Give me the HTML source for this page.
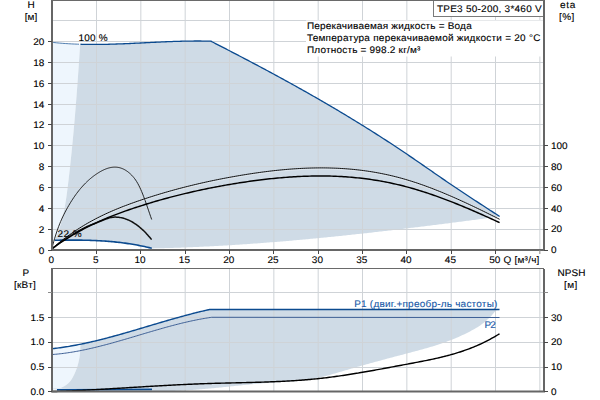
<!DOCTYPE html><html><head><meta charset="utf-8"><style>html,body{margin:0;padding:0;background:#fff;width:600px;height:400px;overflow:hidden}svg{display:block}text{font-family:"Liberation Sans",sans-serif;font-size:10px;fill:#000;stroke:#000;stroke-width:0.12px}</style></head><body>
<svg width="600" height="400" viewBox="0 0 600 400" text-rendering="geometricPrecision">
<path d="M52.00,42.32 L53.50,42.49 L55.00,42.64 L56.50,42.79 L58.00,42.93 L59.50,43.07 L61.00,43.19 L62.50,43.32 L64.00,43.43 L65.50,43.54 L67.00,43.64 L68.50,43.73 L70.00,43.82 L71.50,43.90 L73.00,43.97 L74.50,44.04 L76.00,44.10 L77.50,44.16 L79.00,44.21  L80.16,44.20 L80.06,45.70 L79.96,47.20 L79.86,48.70 L79.77,50.20 L79.67,51.70 L79.57,53.20 L79.47,54.70 L79.37,56.20 L79.27,57.70 L79.17,59.20 L79.07,60.70 L78.96,62.20 L78.86,63.70 L78.76,65.20 L78.66,66.70 L78.55,68.20 L78.45,69.70 L78.35,71.20 L78.24,72.70 L78.14,74.20 L78.03,75.70 L77.92,77.20 L77.82,78.70 L77.71,80.20 L77.60,81.70 L77.49,83.20 L77.38,84.70 L77.27,86.20 L77.16,87.70 L77.05,89.20 L76.94,90.70 L76.82,92.20 L76.71,93.70 L76.59,95.20 L76.48,96.70 L76.36,98.20 L76.25,99.70 L76.13,101.20 L76.01,102.70 L75.89,104.20 L75.77,105.70 L75.65,107.20 L75.53,108.70 L75.41,110.20 L75.28,111.70 L75.16,113.20 L75.04,114.70 L74.91,116.20 L74.78,117.70 L74.65,119.20 L74.53,120.70 L74.40,122.20 L74.27,123.70 L74.13,125.20 L74.00,126.70 L73.87,128.20 L73.73,129.70 L73.60,131.20 L73.46,132.70 L73.32,134.20 L73.18,135.70 L73.04,137.20 L72.90,138.70 L72.76,140.20 L72.62,141.70 L72.47,143.20 L72.33,144.70 L72.18,146.20 L72.03,147.70 L71.88,149.20 L71.73,150.70 L71.58,152.20 L71.43,153.70 L71.27,155.20 L71.12,156.70 L70.96,158.20 L70.80,159.70 L70.64,161.20 L70.48,162.70 L70.32,164.20 L70.16,165.70 L69.99,167.20 L69.83,168.70 L69.66,170.20 L69.49,171.70 L69.32,173.20 L69.15,174.70 L68.98,176.20 L68.80,177.70 L68.63,179.20 L68.45,180.70 L68.27,182.20 L68.09,183.70 L67.91,185.20 L67.72,186.70 L67.54,188.20 L67.35,189.70 L67.16,191.20 L66.96,192.70 L66.76,194.20 L66.55,195.70 L66.34,197.20 L66.12,198.70 L65.89,200.20 L65.66,201.70 L65.41,203.20 L65.16,204.70 L64.90,206.20 L64.62,207.70 L64.34,209.20 L64.04,210.70 L63.73,212.20 L63.41,213.70 L63.08,215.20 L62.73,216.70 L62.36,218.20 L61.98,219.70 L61.58,221.20 L61.17,222.70 L60.74,224.20 L60.29,225.70 L59.82,227.20 L59.33,228.70 L58.82,230.20 L58.29,231.70 L57.74,233.20 L57.17,234.70 L56.57,236.20 L55.96,237.70 L55.31,239.20 L54.87,240.20  L52,240.2 Z" fill="#eef6fd"/>
<path d="M80.50,44.26 L82.00,44.30 L83.50,44.33 L85.00,44.36 L86.50,44.39 L88.00,44.41 L89.50,44.42 L91.00,44.43 L92.50,44.44 L94.00,44.44 L95.50,44.44 L97.00,44.43 L98.50,44.42 L100.00,44.40 L101.50,44.39 L103.00,44.36 L104.50,44.34 L106.00,44.31 L107.50,44.28 L109.00,44.24 L110.50,44.20 L112.00,44.16 L113.50,44.11 L115.00,44.07 L116.50,44.02 L118.00,43.97 L119.50,43.91 L121.00,43.85 L122.50,43.80 L124.00,43.73 L125.50,43.67 L127.00,43.61 L128.50,43.54 L130.00,43.48 L131.50,43.41 L133.00,43.34 L134.50,43.27 L136.00,43.20 L137.50,43.12 L139.00,43.05 L140.50,42.98 L142.00,42.90 L143.50,42.83 L145.00,42.76 L146.50,42.68 L148.00,42.61 L149.50,42.53 L151.00,42.46 L152.50,42.39 L154.00,42.31 L155.50,42.24 L157.00,42.17 L158.50,42.10 L160.00,42.03 L161.50,41.96 L163.00,41.89 L164.50,41.83 L166.00,41.77 L167.50,41.70 L169.00,41.64 L170.50,41.59 L172.00,41.53 L173.50,41.47 L175.00,41.42 L176.50,41.37 L178.00,41.33 L179.50,41.28 L181.00,41.24 L182.50,41.20 L184.00,41.17 L185.50,41.14 L187.00,41.11 L188.50,41.08 L190.00,41.06 L191.50,41.04 L193.00,41.03 L194.50,41.02 L196.00,41.01 L197.50,41.01 L199.00,41.01 L200.50,41.02 L202.00,41.03 L203.50,41.05 L205.00,41.07 L206.50,41.09 L208.00,41.12 L209.50,41.16 L211.00,41.20 L211.00,41.25 L212.50,42.01 L214.00,42.78 L215.50,43.55 L217.00,44.32 L218.50,45.09 L220.00,45.86 L221.50,46.63 L223.00,47.40 L224.50,48.18 L226.00,48.95 L227.50,49.73 L229.00,50.50 L230.50,51.28 L232.00,52.06 L233.50,52.83 L235.00,53.61 L236.50,54.39 L238.00,55.18 L239.50,55.96 L241.00,56.74 L242.50,57.53 L244.00,58.31 L245.50,59.10 L247.00,59.89 L248.50,60.68 L250.00,61.47 L251.50,62.26 L253.00,63.05 L254.50,63.84 L256.00,64.64 L257.50,65.43 L259.00,66.23 L260.50,67.03 L262.00,67.83 L263.50,68.63 L265.00,69.43 L266.50,70.24 L268.00,71.04 L269.50,71.85 L271.00,72.66 L272.50,73.47 L274.00,74.28 L275.50,75.09 L277.00,75.91 L278.50,76.72 L280.00,77.54 L281.50,78.36 L283.00,79.18 L284.50,80.00 L286.00,80.82 L287.50,81.65 L289.00,82.48 L290.50,83.30 L292.00,84.13 L293.50,84.97 L295.00,85.80 L296.50,86.63 L298.00,87.47 L299.50,88.31 L301.00,89.15 L302.50,89.99 L304.00,90.84 L305.50,91.68 L307.00,92.53 L308.50,93.38 L310.00,94.23 L311.50,95.08 L313.00,95.94 L314.50,96.80 L316.00,97.66 L317.50,98.52 L319.00,99.38 L320.50,100.25 L322.00,101.11 L323.50,101.98 L325.00,102.86 L326.50,103.73 L328.00,104.61 L329.50,105.48 L331.00,106.36 L332.50,107.25 L334.00,108.13 L335.50,109.02 L337.00,109.91 L338.50,110.80 L340.00,111.69 L341.50,112.59 L343.00,113.49 L344.50,114.39 L346.00,115.29 L347.50,116.19 L349.00,117.10 L350.50,118.01 L352.00,118.93 L353.50,119.84 L355.00,120.76 L356.50,121.68 L358.00,122.60 L359.50,123.52 L361.00,124.45 L362.50,125.38 L364.00,126.32 L365.50,127.25 L367.00,128.19 L368.50,129.13 L370.00,130.07 L371.50,131.02 L373.00,131.97 L374.50,132.92 L376.00,133.87 L377.50,134.83 L379.00,135.79 L380.50,136.75 L382.00,137.72 L383.50,138.68 L385.00,139.65 L386.50,140.63 L388.00,141.60 L389.50,142.58 L391.00,143.57 L392.50,144.55 L394.00,145.54 L395.50,146.53 L397.00,147.52 L398.50,148.52 L400.00,149.52 L401.50,150.53 L403.00,151.53 L404.50,152.54 L406.00,153.55 L407.50,154.57 L409.00,155.59 L410.50,156.61 L412.00,157.63 L413.50,158.66 L415.00,159.69 L416.50,160.72 L418.00,161.75 L419.50,162.79 L421.00,163.82 L422.50,164.86 L424.00,165.90 L425.50,166.94 L427.00,167.98 L428.50,169.01 L430.00,170.05 L431.50,171.09 L433.00,172.13 L434.50,173.17 L436.00,174.21 L437.50,175.24 L439.00,176.28 L440.50,177.31 L442.00,178.34 L443.50,179.37 L445.00,180.40 L446.50,181.43 L448.00,182.45 L449.50,183.47 L451.00,184.49 L452.50,185.51 L454.00,186.52 L455.50,187.53 L457.00,188.53 L458.50,189.53 L460.00,190.53 L461.50,191.53 L463.00,192.53 L464.50,193.52 L466.00,194.51 L467.50,195.50 L469.00,196.49 L470.50,197.47 L472.00,198.46 L473.50,199.44 L475.00,200.42 L476.50,201.40 L478.00,202.38 L479.50,203.36 L481.00,204.33 L482.50,205.31 L484.00,206.28 L485.50,207.26 L487.00,208.23 L488.50,209.21 L490.00,210.18 L491.50,211.16 L493.00,212.13 L494.50,213.10 L496.00,214.08 L497.50,215.05 L499.00,216.03 L499.60,216.42 L499.50,216.56 L498.30,216.72 L496.80,216.92 L495.30,217.12 L493.80,217.31 L492.30,217.51 L490.80,217.71 L489.30,217.91 L487.80,218.11 L486.30,218.31 L484.80,218.50 L483.30,218.70 L481.80,218.90 L480.30,219.10 L478.80,219.29 L477.30,219.49 L475.80,219.69 L474.30,219.88 L472.80,220.08 L471.30,220.28 L469.80,220.47 L468.30,220.67 L466.80,220.86 L465.30,221.06 L463.80,221.25 L462.30,221.45 L460.80,221.64 L459.30,221.84 L457.80,222.03 L456.30,222.22 L454.80,222.42 L453.30,222.61 L451.80,222.80 L450.30,223.00 L448.80,223.19 L447.30,223.38 L445.80,223.57 L444.30,223.76 L442.80,223.95 L441.30,224.14 L439.80,224.33 L438.30,224.52 L436.80,224.71 L435.30,224.90 L433.80,225.09 L432.30,225.28 L430.80,225.47 L429.30,225.65 L427.80,225.84 L426.30,226.03 L424.80,226.21 L423.30,226.40 L421.80,226.59 L420.30,226.77 L418.80,226.96 L417.30,227.14 L415.80,227.33 L414.30,227.51 L412.80,227.69 L411.30,227.87 L409.80,228.06 L408.30,228.24 L406.80,228.42 L405.30,228.60 L403.80,228.78 L402.30,228.96 L400.80,229.14 L399.30,229.32 L397.80,229.50 L396.30,229.68 L394.80,229.85 L393.30,230.03 L391.80,230.21 L390.30,230.38 L388.80,230.56 L387.30,230.73 L385.80,230.91 L384.30,231.08 L382.80,231.26 L381.30,231.43 L379.80,231.60 L378.30,231.77 L376.80,231.95 L375.30,232.12 L373.80,232.29 L372.30,232.46 L370.80,232.63 L369.30,232.79 L367.80,232.96 L366.30,233.13 L364.80,233.30 L363.30,233.46 L361.80,233.63 L360.30,233.79 L358.80,233.96 L357.30,234.12 L355.80,234.28 L354.30,234.45 L352.80,234.61 L351.30,234.77 L349.80,234.93 L348.30,235.09 L346.80,235.25 L345.30,235.41 L343.80,235.56 L342.30,235.72 L340.80,235.88 L339.30,236.03 L337.80,236.19 L336.30,236.34 L334.80,236.50 L333.30,236.65 L331.80,236.80 L330.30,236.95 L328.80,237.10 L327.30,237.26 L325.80,237.40 L324.30,237.55 L322.80,237.70 L321.30,237.85 L319.80,237.99 L318.30,238.14 L316.80,238.29 L315.30,238.43 L313.80,238.57 L312.30,238.72 L310.80,238.86 L309.30,239.00 L307.80,239.14 L306.30,239.28 L304.80,239.42 L303.30,239.56 L301.80,239.69 L300.30,239.83 L298.80,239.96 L297.30,240.10 L295.80,240.23 L294.30,240.37 L292.80,240.50 L291.30,240.63 L289.80,240.76 L288.30,240.89 L286.80,241.02 L285.30,241.15 L283.80,241.27 L282.30,241.40 L280.80,241.52 L279.30,241.65 L277.80,241.77 L276.30,241.89 L274.80,242.02 L273.30,242.14 L271.80,242.26 L270.30,242.37 L268.80,242.49 L267.30,242.61 L265.80,242.73 L264.30,242.84 L262.80,242.96 L261.30,243.07 L259.80,243.18 L258.30,243.29 L256.80,243.40 L255.30,243.51 L253.80,243.62 L252.30,243.73 L250.80,243.83 L249.30,243.94 L247.80,244.04 L246.30,244.15 L244.80,244.25 L243.30,244.35 L241.80,244.45 L240.30,244.55 L238.80,244.65 L237.30,244.75 L235.80,244.84 L234.30,244.94 L232.80,245.03 L231.30,245.13 L229.80,245.22 L228.30,245.31 L226.80,245.40 L225.30,245.49 L223.80,245.58 L222.30,245.66 L220.80,245.75 L219.30,245.83 L217.80,245.92 L216.30,246.00 L214.80,246.08 L213.30,246.16 L211.80,246.24 L210.30,246.32 L208.80,246.39 L207.30,246.47 L205.80,246.54 L204.30,246.62 L202.80,246.69 L201.30,246.76 L199.80,246.83 L198.30,246.90 L196.80,246.97 L195.30,247.03 L193.80,247.10 L192.30,247.16 L190.80,247.22 L189.30,247.29 L187.80,247.35 L186.30,247.41 L184.80,247.46 L183.30,247.52 L181.80,247.58 L180.30,247.63 L178.80,247.68 L177.30,247.74 L175.80,247.79 L174.30,247.84 L172.80,247.88 L171.30,247.93 L169.80,247.98 L168.30,248.02 L166.80,248.06 L165.30,248.10 L163.80,248.14 L162.30,248.18 L160.80,248.22 L159.30,248.26 L157.80,248.29 L156.30,248.33 L154.80,248.36 L153.30,248.39 L151.80,248.42 L151.80,248.28 L150.60,247.98 L149.10,247.62 L147.60,247.26 L146.10,246.92 L144.60,246.59 L143.10,246.27 L141.60,245.96 L140.10,245.66 L138.60,245.36 L137.10,245.08 L135.60,244.81 L134.10,244.55 L132.60,244.29 L131.10,244.05 L129.60,243.81 L128.10,243.59 L126.60,243.37 L125.10,243.16 L123.60,242.96 L122.10,242.77 L120.60,242.58 L119.10,242.41 L117.60,242.24 L116.10,242.08 L114.60,241.92 L113.10,241.78 L111.60,241.64 L110.10,241.51 L108.60,241.38 L107.10,241.27 L105.60,241.15 L104.10,241.05 L102.60,240.95 L101.10,240.86 L99.60,240.77 L98.10,240.69 L96.60,240.62 L95.10,240.55 L93.60,240.48 L92.10,240.43 L90.60,240.37 L89.10,240.32 L87.60,240.28 L86.10,240.24 L84.60,240.21 L83.10,240.18 L81.60,240.15 L80.10,240.13 L78.60,240.11 L77.10,240.10 L75.60,240.09 L74.10,240.08 L72.60,240.08 L71.10,240.08 L69.60,240.09 L68.10,240.09 L66.60,240.10 L65.10,240.11 L63.60,240.13 L62.10,240.14 L60.60,240.16 L59.10,240.18 L57.60,240.21 L56.10,240.23 L54.60,240.26 L54.87,240.20 L55.31,239.20 L55.96,237.70 L56.57,236.20 L57.17,234.70 L57.74,233.20 L58.29,231.70 L58.82,230.20 L59.33,228.70 L59.82,227.20 L60.29,225.70 L60.74,224.20 L61.17,222.70 L61.58,221.20 L61.98,219.70 L62.36,218.20 L62.73,216.70 L63.08,215.20 L63.41,213.70 L63.73,212.20 L64.04,210.70 L64.34,209.20 L64.62,207.70 L64.90,206.20 L65.16,204.70 L65.41,203.20 L65.66,201.70 L65.89,200.20 L66.12,198.70 L66.34,197.20 L66.55,195.70 L66.76,194.20 L66.96,192.70 L67.16,191.20 L67.35,189.70 L67.54,188.20 L67.72,186.70 L67.91,185.20 L68.09,183.70 L68.27,182.20 L68.45,180.70 L68.63,179.20 L68.80,177.70 L68.98,176.20 L69.15,174.70 L69.32,173.20 L69.49,171.70 L69.66,170.20 L69.83,168.70 L69.99,167.20 L70.16,165.70 L70.32,164.20 L70.48,162.70 L70.64,161.20 L70.80,159.70 L70.96,158.20 L71.12,156.70 L71.27,155.20 L71.43,153.70 L71.58,152.20 L71.73,150.70 L71.88,149.20 L72.03,147.70 L72.18,146.20 L72.33,144.70 L72.47,143.20 L72.62,141.70 L72.76,140.20 L72.90,138.70 L73.04,137.20 L73.18,135.70 L73.32,134.20 L73.46,132.70 L73.60,131.20 L73.73,129.70 L73.87,128.20 L74.00,126.70 L74.13,125.20 L74.27,123.70 L74.40,122.20 L74.53,120.70 L74.65,119.20 L74.78,117.70 L74.91,116.20 L75.04,114.70 L75.16,113.20 L75.28,111.70 L75.41,110.20 L75.53,108.70 L75.65,107.20 L75.77,105.70 L75.89,104.20 L76.01,102.70 L76.13,101.20 L76.25,99.70 L76.36,98.20 L76.48,96.70 L76.59,95.20 L76.71,93.70 L76.82,92.20 L76.94,90.70 L77.05,89.20 L77.16,87.70 L77.27,86.20 L77.38,84.70 L77.49,83.20 L77.60,81.70 L77.71,80.20 L77.82,78.70 L77.92,77.20 L78.03,75.70 L78.14,74.20 L78.24,72.70 L78.35,71.20 L78.45,69.70 L78.55,68.20 L78.66,66.70 L78.76,65.20 L78.86,63.70 L78.96,62.20 L79.07,60.70 L79.17,59.20 L79.27,57.70 L79.37,56.20 L79.47,54.70 L79.57,53.20 L79.67,51.70 L79.77,50.20 L79.86,48.70 L79.96,47.20 L80.06,45.70 L80.16,44.20 Z" fill="#cfdbe6"/>
<path d="M96.51,0 V249 M140.84,0 V249 M185.18,0 V249 M229.51,0 V249 M273.85,0 V249 M318.18,0 V249 M362.52,0 V249 M406.85,0 V249 M451.19,0 V249 M495.52,0 V249 M539.86,0 V249 M53,229.5 H543 M53,208.5 H543 M53,187.5 H543 M53,166.5 H543 M53,145.5 H543 M53,124.5 H543 M53,104.5 H543 M53,83.5 H543 M53,62.5 H543 M53,41.5 H543 M53,20.5 H543" stroke="#cfd3d7" stroke-width="1" fill="none"/>
<path d="M52.70,348.62 L54.20,348.45 L55.70,348.27 L57.20,348.09 L58.70,347.90 L60.20,347.70 L61.70,347.49 L63.20,347.27 L64.70,347.04 L66.20,346.81 L67.70,346.57 L69.20,346.32 L70.70,346.06 L72.20,345.80 L73.70,345.53 L75.20,345.25 L76.70,344.97 L78.20,344.68 L79.70,344.38  L80.37,344.30 L80.37,345.80 L80.35,347.30 L80.30,348.80 L80.22,350.30 L80.12,351.80 L79.99,353.30 L79.83,354.80 L79.63,356.30 L79.41,357.80 L79.14,359.30 L78.84,360.80 L78.51,362.30 L78.13,363.80 L77.72,365.30 L77.26,366.80 L76.77,368.30 L76.22,369.80 L75.64,371.30 L75.00,372.80 L74.32,374.30 L73.59,375.80 L72.81,377.30 L71.96,378.80 L70.99,380.30 L69.80,381.80 L68.33,383.30 L66.51,384.80 L64.25,386.30 L61.14,387.80 L55.88,389.30 L54.44,389.60  L52,390 Z" fill="#eef6fd"/>
<path d="M81.20,344.08 L82.70,343.77 L84.20,343.45 L85.70,343.13 L87.20,342.80 L88.70,342.47 L90.20,342.13 L91.70,341.78 L93.20,341.43 L94.70,341.08 L96.20,340.72 L97.70,340.35 L99.20,339.98 L100.70,339.61 L102.20,339.23 L103.70,338.84 L105.20,338.46 L106.70,338.07 L108.20,337.67 L109.70,337.27 L111.20,336.87 L112.70,336.46 L114.20,336.05 L115.70,335.64 L117.20,335.22 L118.70,334.81 L120.20,334.38 L121.70,333.96 L123.20,333.53 L124.70,333.10 L126.20,332.67 L127.70,332.24 L129.20,331.81 L130.70,331.37 L132.20,330.93 L133.70,330.49 L135.20,330.05 L136.70,329.61 L138.20,329.16 L139.70,328.72 L141.20,328.27 L142.70,327.83 L144.20,327.38 L145.70,326.93 L147.20,326.49 L148.70,326.04 L150.20,325.59 L151.70,325.15 L153.20,324.70 L154.70,324.25 L156.20,323.81 L157.70,323.36 L159.20,322.92 L160.70,322.48 L162.20,322.04 L163.70,321.60 L165.20,321.16 L166.70,320.72 L168.20,320.29 L169.70,319.85 L171.20,319.42 L172.70,318.99 L174.20,318.56 L175.70,318.14 L177.20,317.72 L178.70,317.30 L180.20,316.88 L181.70,316.47 L183.20,316.06 L184.70,315.65 L186.20,315.25 L187.70,314.85 L189.20,314.45 L190.70,314.06 L192.20,313.67 L193.70,313.29 L195.20,312.91 L196.70,312.53 L198.20,312.16 L199.70,311.80 L201.20,311.43 L202.70,311.08 L204.20,310.73 L205.70,310.38 L207.20,310.04 L208.70,309.70 L209.50,309.53 L499.50,309.50  L496.00,310.39 L495.50,311.01 L494.00,312.82 L492.50,314.53 L491.00,316.14 L489.50,317.66 L488.00,319.09 L486.50,320.44 L485.00,321.72 L483.50,322.92 L482.00,324.06 L480.50,325.13 L479.00,326.15 L477.50,327.13 L476.00,328.05 L474.50,328.94 L473.00,329.79 L471.50,330.61 L470.00,331.41 L468.50,332.19 L467.00,332.95 L465.50,333.69 L464.00,334.41 L462.50,335.12 L461.00,335.81 L459.50,336.49 L458.00,337.15 L456.50,337.79 L455.00,338.42 L453.50,339.03 L452.00,339.63 L450.50,340.22 L449.00,340.79 L447.50,341.35 L446.00,341.90 L444.50,342.44 L443.00,342.97 L441.50,343.48 L440.00,343.99 L438.50,344.48 L437.00,344.97 L435.50,345.45 L434.00,345.92 L432.50,346.38 L431.00,346.83 L429.50,347.28 L428.00,347.72 L426.50,348.15 L425.00,348.58 L423.50,349.00 L422.00,349.42 L420.50,349.83 L419.00,350.24 L417.50,350.65 L416.00,351.05 L414.50,351.46 L413.00,351.85 L411.50,352.25 L410.00,352.65 L408.50,353.04 L407.00,353.44 L405.50,353.83 L404.00,354.23 L402.50,354.63 L401.00,355.02 L399.50,355.42 L398.00,355.82 L396.50,356.22 L395.00,356.61 L393.50,357.01 L392.00,357.41 L390.50,357.81 L389.00,358.22 L387.50,358.62 L386.00,359.02 L384.50,359.42 L383.00,359.83 L381.50,360.23 L380.00,360.64 L378.50,361.05 L377.00,361.46 L375.50,361.87 L374.00,362.28 L372.50,362.69 L371.00,363.10 L369.50,363.51 L368.00,363.93 L366.50,364.34 L365.00,364.76 L363.50,365.18 L362.00,365.60 L360.50,366.02 L359.00,366.44 L357.50,366.87 L356.00,367.29 L354.50,367.72 L353.00,368.15 L351.50,368.58 L350.00,369.01 L348.50,369.45 L347.00,369.88 L345.50,370.32 L344.00,370.76 L342.50,371.20 L341.00,371.64 L339.50,372.08 L338.00,372.53 L336.50,372.97 L335.00,373.42 L333.50,373.86 L332.00,374.29 L330.50,374.73 L329.00,375.15 L327.50,375.56 L326.00,375.97 L324.50,376.36 L323.00,376.75 L321.50,377.11 L320.00,377.46 L318.50,377.80 L317.00,378.11 L315.50,378.41 L314.00,378.69 L312.50,378.96 L311.00,379.21 L309.50,379.44 L308.00,379.66 L306.50,379.87 L305.00,380.06 L303.50,380.24 L302.00,380.41 L300.50,380.57 L299.00,380.72 L297.50,380.87 L296.00,381.00 L294.50,381.13 L293.00,381.24 L291.50,381.36 L290.00,381.46 L288.50,381.57 L287.00,381.67 L285.50,381.76 L284.00,381.86 L282.50,381.95 L281.00,382.04 L279.50,382.13 L278.00,382.22 L276.50,382.32 L275.00,382.41 L273.50,382.51 L272.00,382.61 L270.50,382.72 L269.00,382.83 L267.50,382.94 L266.00,383.06 L264.50,383.18 L263.00,383.30 L261.50,383.43 L260.00,383.55 L258.50,383.68 L257.00,383.82 L255.50,383.95 L254.00,384.09 L252.50,384.23 L251.00,384.37 L249.50,384.52 L248.00,384.66 L246.50,384.81 L245.00,384.96 L243.50,385.11 L242.00,385.26 L240.50,385.41 L239.00,385.56 L237.50,385.71 L236.00,385.87 L234.50,386.02 L233.00,386.18 L231.50,386.33 L230.00,386.48 L228.50,386.64 L227.00,386.79 L225.50,386.95 L224.00,387.10 L222.50,387.25 L221.00,387.40 L219.50,387.55 L218.00,387.70 L216.50,387.85 L215.00,387.99 L213.50,388.14 L212.00,388.28 L210.50,388.42 L209.00,388.56 L207.50,388.70 L206.00,388.83 L204.50,388.96 L203.00,389.09 L201.50,389.22 L200.00,389.35 L198.50,389.47 L197.00,389.58 L195.50,389.70 L194.00,389.81 L192.50,389.92 L191.00,390.02 L189.50,390.12 L188.00,390.22 L186.50,390.31 L185.00,390.40 L183.50,390.48 L182.00,390.56 L180.50,390.64 L179.00,390.71 L177.50,390.77 L176.00,390.83 L174.50,390.88 L173.00,390.93 L171.50,390.98 L170.00,391.01 L168.50,391.05 L167.00,391.07 L165.50,391.09 L164.00,391.11 L162.50,391.11 L161.00,391.11 L159.50,391.11 L158.00,391.09 L156.50,391.08 L155.00,391.05 L153.50,391.02 L152.00,390.97  L54.44,389.60 L55.88,389.30 L61.14,387.80 L64.25,386.30 L66.51,384.80 L68.33,383.30 L69.80,381.80 L70.99,380.30 L71.96,378.80 L72.81,377.30 L73.59,375.80 L74.32,374.30 L75.00,372.80 L75.64,371.30 L76.22,369.80 L76.77,368.30 L77.26,366.80 L77.72,365.30 L78.13,363.80 L78.51,362.30 L78.84,360.80 L79.14,359.30 L79.41,357.80 L79.63,356.30 L79.83,354.80 L79.99,353.30 L80.12,351.80 L80.22,350.30 L80.30,348.80 L80.35,347.30 L80.37,345.80 L80.37,344.30  Z" fill="#cfdbe6"/>
<path d="M96.51,269 V391 M140.84,269 V391 M185.18,269 V391 M229.51,269 V391 M273.85,269 V391 M318.18,269 V391 M362.52,269 V391 M406.85,269 V391 M451.19,269 V391 M495.52,269 V391 M539.86,269 V391 M53,367.5 H543 M53,342.5 H543 M53,317.5 H543 M53,292.5 H543" stroke="#cfd3d7" stroke-width="1" fill="none"/>
<path d="M52.00,42.32 L53.50,42.49 L55.00,42.64 L56.50,42.79 L58.00,42.93 L59.50,43.07 L61.00,43.19 L62.50,43.32 L64.00,43.43 L65.50,43.54 L67.00,43.64 L68.50,43.73 L70.00,43.82 L71.50,43.90 L73.00,43.97 L74.50,44.04 L76.00,44.10 L77.50,44.16 L79.00,44.21 " stroke="#0b4a8f" stroke-width="1" fill="none" opacity="0.7"/>
<path d="M80.50,44.26 L82.00,44.30 L83.50,44.33 L85.00,44.36 L86.50,44.39 L88.00,44.41 L89.50,44.42 L91.00,44.43 L92.50,44.44 L94.00,44.44 L95.50,44.44 L97.00,44.43 L98.50,44.42 L100.00,44.40 L101.50,44.39 L103.00,44.36 L104.50,44.34 L106.00,44.31 L107.50,44.28 L109.00,44.24 L110.50,44.20 L112.00,44.16 L113.50,44.11 L115.00,44.07 L116.50,44.02 L118.00,43.97 L119.50,43.91 L121.00,43.85 L122.50,43.80 L124.00,43.73 L125.50,43.67 L127.00,43.61 L128.50,43.54 L130.00,43.48 L131.50,43.41 L133.00,43.34 L134.50,43.27 L136.00,43.20 L137.50,43.12 L139.00,43.05 L140.50,42.98 L142.00,42.90 L143.50,42.83 L145.00,42.76 L146.50,42.68 L148.00,42.61 L149.50,42.53 L151.00,42.46 L152.50,42.39 L154.00,42.31 L155.50,42.24 L157.00,42.17 L158.50,42.10 L160.00,42.03 L161.50,41.96 L163.00,41.89 L164.50,41.83 L166.00,41.77 L167.50,41.70 L169.00,41.64 L170.50,41.59 L172.00,41.53 L173.50,41.47 L175.00,41.42 L176.50,41.37 L178.00,41.33 L179.50,41.28 L181.00,41.24 L182.50,41.20 L184.00,41.17 L185.50,41.14 L187.00,41.11 L188.50,41.08 L190.00,41.06 L191.50,41.04 L193.00,41.03 L194.50,41.02 L196.00,41.01 L197.50,41.01 L199.00,41.01 L200.50,41.02 L202.00,41.03 L203.50,41.05 L205.00,41.07 L206.50,41.09 L208.00,41.12 L209.50,41.16 L211.00,41.20  L211.00,41.25 L212.50,42.01 L214.00,42.78 L215.50,43.55 L217.00,44.32 L218.50,45.09 L220.00,45.86 L221.50,46.63 L223.00,47.40 L224.50,48.18 L226.00,48.95 L227.50,49.73 L229.00,50.50 L230.50,51.28 L232.00,52.06 L233.50,52.83 L235.00,53.61 L236.50,54.39 L238.00,55.18 L239.50,55.96 L241.00,56.74 L242.50,57.53 L244.00,58.31 L245.50,59.10 L247.00,59.89 L248.50,60.68 L250.00,61.47 L251.50,62.26 L253.00,63.05 L254.50,63.84 L256.00,64.64 L257.50,65.43 L259.00,66.23 L260.50,67.03 L262.00,67.83 L263.50,68.63 L265.00,69.43 L266.50,70.24 L268.00,71.04 L269.50,71.85 L271.00,72.66 L272.50,73.47 L274.00,74.28 L275.50,75.09 L277.00,75.91 L278.50,76.72 L280.00,77.54 L281.50,78.36 L283.00,79.18 L284.50,80.00 L286.00,80.82 L287.50,81.65 L289.00,82.48 L290.50,83.30 L292.00,84.13 L293.50,84.97 L295.00,85.80 L296.50,86.63 L298.00,87.47 L299.50,88.31 L301.00,89.15 L302.50,89.99 L304.00,90.84 L305.50,91.68 L307.00,92.53 L308.50,93.38 L310.00,94.23 L311.50,95.08 L313.00,95.94 L314.50,96.80 L316.00,97.66 L317.50,98.52 L319.00,99.38 L320.50,100.25 L322.00,101.11 L323.50,101.98 L325.00,102.86 L326.50,103.73 L328.00,104.61 L329.50,105.48 L331.00,106.36 L332.50,107.25 L334.00,108.13 L335.50,109.02 L337.00,109.91 L338.50,110.80 L340.00,111.69 L341.50,112.59 L343.00,113.49 L344.50,114.39 L346.00,115.29 L347.50,116.19 L349.00,117.10 L350.50,118.01 L352.00,118.93 L353.50,119.84 L355.00,120.76 L356.50,121.68 L358.00,122.60 L359.50,123.52 L361.00,124.45 L362.50,125.38 L364.00,126.32 L365.50,127.25 L367.00,128.19 L368.50,129.13 L370.00,130.07 L371.50,131.02 L373.00,131.97 L374.50,132.92 L376.00,133.87 L377.50,134.83 L379.00,135.79 L380.50,136.75 L382.00,137.72 L383.50,138.68 L385.00,139.65 L386.50,140.63 L388.00,141.60 L389.50,142.58 L391.00,143.57 L392.50,144.55 L394.00,145.54 L395.50,146.53 L397.00,147.52 L398.50,148.52 L400.00,149.52 L401.50,150.53 L403.00,151.53 L404.50,152.54 L406.00,153.55 L407.50,154.57 L409.00,155.59 L410.50,156.61 L412.00,157.63 L413.50,158.66 L415.00,159.69 L416.50,160.72 L418.00,161.75 L419.50,162.79 L421.00,163.82 L422.50,164.86 L424.00,165.90 L425.50,166.94 L427.00,167.98 L428.50,169.01 L430.00,170.05 L431.50,171.09 L433.00,172.13 L434.50,173.17 L436.00,174.21 L437.50,175.24 L439.00,176.28 L440.50,177.31 L442.00,178.34 L443.50,179.37 L445.00,180.40 L446.50,181.43 L448.00,182.45 L449.50,183.47 L451.00,184.49 L452.50,185.51 L454.00,186.52 L455.50,187.53 L457.00,188.53 L458.50,189.53 L460.00,190.53 L461.50,191.53 L463.00,192.53 L464.50,193.52 L466.00,194.51 L467.50,195.50 L469.00,196.49 L470.50,197.47 L472.00,198.46 L473.50,199.44 L475.00,200.42 L476.50,201.40 L478.00,202.38 L479.50,203.36 L481.00,204.33 L482.50,205.31 L484.00,206.28 L485.50,207.26 L487.00,208.23 L488.50,209.21 L490.00,210.18 L491.50,211.16 L493.00,212.13 L494.50,213.10 L496.00,214.08 L497.50,215.05 L499.00,216.03 L499.60,216.42 " stroke="#0b4a8f" stroke-width="1.3" fill="none"/>
<path d="M54.60,240.26 L56.10,240.23 L57.60,240.21 L59.10,240.18 L60.60,240.16 L62.10,240.14 L63.60,240.13 L65.10,240.11 L66.60,240.10 L68.10,240.09 L69.60,240.09 L71.10,240.08 L72.60,240.08 L74.10,240.08 L75.60,240.09 L77.10,240.10 L78.60,240.11 L80.10,240.13 L81.60,240.15 L83.10,240.18 L84.60,240.21 L86.10,240.24 L87.60,240.28 L89.10,240.32 L90.60,240.37 L92.10,240.43 L93.60,240.48 L95.10,240.55 L96.60,240.62 L98.10,240.69 L99.60,240.77 L101.10,240.86 L102.60,240.95 L104.10,241.05 L105.60,241.15 L107.10,241.27 L108.60,241.38 L110.10,241.51 L111.60,241.64 L113.10,241.78 L114.60,241.92 L116.10,242.08 L117.60,242.24 L119.10,242.41 L120.60,242.58 L122.10,242.77 L123.60,242.96 L125.10,243.16 L126.60,243.37 L128.10,243.59 L129.60,243.81 L131.10,244.05 L132.60,244.29 L134.10,244.55 L135.60,244.81 L137.10,245.08 L138.60,245.36 L140.10,245.66 L141.60,245.96 L143.10,246.27 L144.60,246.59 L146.10,246.92 L147.60,247.26 L149.10,247.62 L150.60,247.98 L151.80,248.28 " stroke="#0b4a8f" stroke-width="1.6" fill="none"/>
<path d="M51.70,249.23 L52.70,245.35 L53.70,241.70 L54.70,238.26 L55.70,235.03 L56.70,231.98 L57.70,229.10 L58.70,226.39 L59.70,223.83 L60.70,221.42 L61.70,219.12 L62.70,216.94 L63.70,214.87 L64.70,212.88 L65.70,210.97 L66.70,209.13 L67.70,207.34 L68.70,205.60 L69.70,203.91 L70.70,202.27 L71.70,200.68 L72.70,199.13 L73.70,197.63 L74.70,196.18 L75.70,194.77 L76.70,193.40 L77.70,192.08 L78.70,190.80 L79.70,189.56 L80.70,188.36 L81.70,187.20 L82.70,186.07 L83.70,184.99 L84.70,183.94 L85.70,182.93 L86.70,181.95 L87.70,181.00 L88.70,180.09 L89.70,179.21 L90.70,178.36 L91.70,177.54 L92.70,176.75 L93.70,175.99 L94.70,175.26 L95.70,174.55 L96.70,173.87 L97.70,173.22 L98.70,172.59 L99.70,171.99 L100.70,171.41 L101.70,170.87 L102.70,170.35 L103.70,169.87 L104.70,169.43 L105.70,169.02 L106.70,168.64 L107.70,168.30 L108.70,168.01 L109.70,167.75 L110.70,167.54 L111.70,167.37 L112.70,167.24 L113.70,167.16 L114.70,167.13 L115.70,167.15 L116.70,167.21 L117.70,167.33 L118.70,167.51 L119.70,167.73 L120.70,168.02 L121.70,168.36 L122.70,168.76 L123.70,169.21 L124.70,169.73 L125.70,170.32 L126.70,170.97 L127.70,171.68 L128.70,172.46 L129.70,173.31 L130.70,174.22 L131.70,175.21 L132.70,176.29 L133.70,177.45 L134.70,178.73 L135.70,180.13 L136.70,181.67 L137.70,183.35 L138.70,185.20 L139.70,187.20 L140.70,189.35 L141.70,191.65 L142.70,194.10 L143.70,196.69 L144.70,199.39 L145.70,202.18 L146.70,205.04 L147.70,207.94 L148.70,210.87 L149.70,213.79 L150.70,216.69 L151.70,219.53 " stroke="#111" stroke-width="0.9" fill="none"/>
<path d="M51.70,249.50 L52.70,248.63 L53.70,247.77 L54.70,246.92 L55.70,246.09 L56.70,245.27 L57.70,244.47 L58.70,243.68 L59.70,242.90 L60.70,242.14 L61.70,241.39 L62.70,240.66 L63.70,239.94 L64.70,239.23 L65.70,238.53 L66.70,237.85 L67.70,237.18 L68.70,236.53 L69.70,235.88 L70.70,235.25 L71.70,234.63 L72.70,234.03 L73.70,233.43 L74.70,232.85 L75.70,232.28 L76.70,231.72 L77.70,231.17 L78.70,230.63 L79.70,230.11 L80.70,229.59 L81.70,229.09 L82.70,228.60 L83.70,228.11 L84.70,227.64 L85.70,227.18 L86.70,226.73 L87.70,226.29 L88.70,225.86 L89.70,225.44 L90.70,225.03 L91.70,224.63 L92.70,224.23 L93.70,223.84 L94.70,223.45 L95.70,223.07 L96.70,222.68 L97.70,222.30 L98.70,221.91 L99.70,221.51 L100.70,221.11 L101.70,220.71 L102.70,220.31 L103.70,219.91 L104.70,219.52 L105.70,219.14 L106.70,218.78 L107.70,218.45 L108.70,218.14 L109.70,217.87 L110.70,217.63 L111.70,217.43 L112.70,217.28 L113.70,217.18 L114.70,217.12 L115.70,217.12 L116.70,217.15 L117.70,217.22 L118.70,217.33 L119.70,217.46 L120.70,217.63 L121.70,217.84 L122.70,218.07 L123.70,218.34 L124.70,218.64 L125.70,218.98 L126.70,219.35 L127.70,219.75 L128.70,220.18 L129.70,220.65 L130.70,221.16 L131.70,221.69 L132.70,222.26 L133.70,222.87 L134.70,223.51 L135.70,224.18 L136.70,224.89 L137.70,225.63 L138.70,226.41 L139.70,227.22 L140.70,228.07 L141.70,228.95 L142.70,229.87 L143.70,230.83 L144.70,231.82 L145.70,232.84 L146.70,233.91 L147.70,235.00 L148.70,236.14 L149.70,237.31 L150.70,238.51 L151.60,239.63 " stroke="#111" stroke-width="1.5" fill="none"/>
<path d="M51.70,248.91 L53.70,247.18 L55.70,245.49 L57.70,243.83 L59.70,242.21 L61.70,240.63 L63.70,239.09 L65.70,237.59 L67.70,236.11 L69.70,234.68 L71.70,233.27 L73.70,231.90 L75.70,230.57 L77.70,229.26 L79.70,227.99 L81.70,226.74 L83.70,225.53 L85.70,224.34 L87.70,223.18 L89.70,222.05 L91.70,220.95 L93.70,219.87 L95.70,218.81 L97.70,217.78 L99.70,216.78 L101.70,215.79 L103.70,214.83 L105.70,213.89 L107.70,212.98 L109.70,212.08 L111.70,211.20 L113.70,210.34 L115.70,209.49 L117.70,208.67 L119.70,207.86 L121.70,207.06 L123.70,206.28 L125.70,205.52 L127.70,204.77 L129.70,204.03 L131.70,203.30 L133.70,202.58 L135.70,201.88 L137.70,201.18 L139.70,200.50 L141.70,199.82 L143.70,199.15 L145.70,198.49 L147.70,197.83 L149.70,197.19 L151.70,196.55 L153.70,195.92 L155.70,195.30 L157.70,194.68 L159.70,194.08 L161.70,193.48 L163.70,192.88 L165.70,192.30 L167.70,191.72 L169.70,191.16 L171.70,190.59 L173.70,190.04 L175.70,189.49 L177.70,188.95 L179.70,188.42 L181.70,187.90 L183.70,187.38 L185.70,186.87 L187.70,186.36 L189.70,185.87 L191.70,185.38 L193.70,184.89 L195.70,184.41 L197.70,183.95 L199.70,183.48 L201.70,183.03 L203.70,182.58 L205.70,182.13 L207.70,181.69 L209.70,181.26 L211.70,180.84 L213.70,180.42 L215.70,180.01 L217.70,179.60 L219.70,179.20 L221.70,178.81 L223.70,178.42 L225.70,178.04 L227.70,177.67 L229.70,177.30 L231.70,176.93 L233.70,176.58 L235.70,176.22 L237.70,175.88 L239.70,175.54 L241.70,175.20 L243.70,174.87 L245.70,174.55 L247.70,174.23 L249.70,173.92 L251.70,173.61 L253.70,173.31 L255.70,173.02 L257.70,172.74 L259.70,172.46 L261.70,172.18 L263.70,171.92 L265.70,171.66 L267.70,171.41 L269.70,171.17 L271.70,170.93 L273.70,170.70 L275.70,170.48 L277.70,170.27 L279.70,170.07 L281.70,169.87 L283.70,169.68 L285.70,169.50 L287.70,169.33 L289.70,169.17 L291.70,169.02 L293.70,168.87 L295.70,168.74 L297.70,168.61 L299.70,168.50 L301.70,168.39 L303.70,168.30 L305.70,168.21 L307.70,168.13 L309.70,168.07 L311.70,168.01 L313.70,167.97 L315.70,167.93 L317.70,167.91 L319.70,167.89 L321.70,167.89 L323.70,167.90 L325.70,167.92 L327.70,167.95 L329.70,167.99 L331.70,168.05 L333.70,168.11 L335.70,168.19 L337.70,168.28 L339.70,168.38 L341.70,168.50 L343.70,168.62 L345.70,168.76 L347.70,168.92 L349.70,169.08 L351.70,169.26 L353.70,169.45 L355.70,169.65 L357.70,169.87 L359.70,170.10 L361.70,170.35 L363.70,170.61 L365.70,170.88 L367.70,171.17 L369.70,171.47 L371.70,171.78 L373.70,172.11 L375.70,172.46 L377.70,172.82 L379.70,173.19 L381.70,173.58 L383.70,173.99 L385.70,174.41 L387.70,174.84 L389.70,175.29 L391.70,175.76 L393.70,176.24 L395.70,176.74 L397.70,177.25 L399.70,177.78 L401.70,178.33 L403.70,178.89 L405.70,179.47 L407.70,180.07 L409.70,180.68 L411.70,181.30 L413.70,181.94 L415.70,182.59 L417.70,183.26 L419.70,183.94 L421.70,184.64 L423.70,185.35 L425.70,186.07 L427.70,186.81 L429.70,187.55 L431.70,188.31 L433.70,189.08 L435.70,189.87 L437.70,190.66 L439.70,191.47 L441.70,192.28 L443.70,193.11 L445.70,193.95 L447.70,194.79 L449.70,195.65 L451.70,196.51 L453.70,197.39 L455.70,198.27 L457.70,199.16 L459.70,200.06 L461.70,200.97 L463.70,201.89 L465.70,202.81 L467.70,203.74 L469.70,204.68 L471.70,205.62 L473.70,206.57 L475.70,207.53 L477.70,208.49 L479.70,209.45 L481.70,210.43 L483.70,211.40 L485.70,212.38 L487.70,213.37 L489.70,214.36 L491.70,215.35 L493.70,216.35 L495.70,217.35 L497.70,218.35 L499.60,219.30 " stroke="#fff" stroke-width="0.8" fill="none" opacity="0.4" transform="translate(0,1.2)"/>
<path d="M51.70,248.91 L53.70,247.18 L55.70,245.49 L57.70,243.83 L59.70,242.21 L61.70,240.63 L63.70,239.09 L65.70,237.59 L67.70,236.11 L69.70,234.68 L71.70,233.27 L73.70,231.90 L75.70,230.57 L77.70,229.26 L79.70,227.99 L81.70,226.74 L83.70,225.53 L85.70,224.34 L87.70,223.18 L89.70,222.05 L91.70,220.95 L93.70,219.87 L95.70,218.81 L97.70,217.78 L99.70,216.78 L101.70,215.79 L103.70,214.83 L105.70,213.89 L107.70,212.98 L109.70,212.08 L111.70,211.20 L113.70,210.34 L115.70,209.49 L117.70,208.67 L119.70,207.86 L121.70,207.06 L123.70,206.28 L125.70,205.52 L127.70,204.77 L129.70,204.03 L131.70,203.30 L133.70,202.58 L135.70,201.88 L137.70,201.18 L139.70,200.50 L141.70,199.82 L143.70,199.15 L145.70,198.49 L147.70,197.83 L149.70,197.19 L151.70,196.55 L153.70,195.92 L155.70,195.30 L157.70,194.68 L159.70,194.08 L161.70,193.48 L163.70,192.88 L165.70,192.30 L167.70,191.72 L169.70,191.16 L171.70,190.59 L173.70,190.04 L175.70,189.49 L177.70,188.95 L179.70,188.42 L181.70,187.90 L183.70,187.38 L185.70,186.87 L187.70,186.36 L189.70,185.87 L191.70,185.38 L193.70,184.89 L195.70,184.41 L197.70,183.95 L199.70,183.48 L201.70,183.03 L203.70,182.58 L205.70,182.13 L207.70,181.69 L209.70,181.26 L211.70,180.84 L213.70,180.42 L215.70,180.01 L217.70,179.60 L219.70,179.20 L221.70,178.81 L223.70,178.42 L225.70,178.04 L227.70,177.67 L229.70,177.30 L231.70,176.93 L233.70,176.58 L235.70,176.22 L237.70,175.88 L239.70,175.54 L241.70,175.20 L243.70,174.87 L245.70,174.55 L247.70,174.23 L249.70,173.92 L251.70,173.61 L253.70,173.31 L255.70,173.02 L257.70,172.74 L259.70,172.46 L261.70,172.18 L263.70,171.92 L265.70,171.66 L267.70,171.41 L269.70,171.17 L271.70,170.93 L273.70,170.70 L275.70,170.48 L277.70,170.27 L279.70,170.07 L281.70,169.87 L283.70,169.68 L285.70,169.50 L287.70,169.33 L289.70,169.17 L291.70,169.02 L293.70,168.87 L295.70,168.74 L297.70,168.61 L299.70,168.50 L301.70,168.39 L303.70,168.30 L305.70,168.21 L307.70,168.13 L309.70,168.07 L311.70,168.01 L313.70,167.97 L315.70,167.93 L317.70,167.91 L319.70,167.89 L321.70,167.89 L323.70,167.90 L325.70,167.92 L327.70,167.95 L329.70,167.99 L331.70,168.05 L333.70,168.11 L335.70,168.19 L337.70,168.28 L339.70,168.38 L341.70,168.50 L343.70,168.62 L345.70,168.76 L347.70,168.92 L349.70,169.08 L351.70,169.26 L353.70,169.45 L355.70,169.65 L357.70,169.87 L359.70,170.10 L361.70,170.35 L363.70,170.61 L365.70,170.88 L367.70,171.17 L369.70,171.47 L371.70,171.78 L373.70,172.11 L375.70,172.46 L377.70,172.82 L379.70,173.19 L381.70,173.58 L383.70,173.99 L385.70,174.41 L387.70,174.84 L389.70,175.29 L391.70,175.76 L393.70,176.24 L395.70,176.74 L397.70,177.25 L399.70,177.78 L401.70,178.33 L403.70,178.89 L405.70,179.47 L407.70,180.07 L409.70,180.68 L411.70,181.30 L413.70,181.94 L415.70,182.59 L417.70,183.26 L419.70,183.94 L421.70,184.64 L423.70,185.35 L425.70,186.07 L427.70,186.81 L429.70,187.55 L431.70,188.31 L433.70,189.08 L435.70,189.87 L437.70,190.66 L439.70,191.47 L441.70,192.28 L443.70,193.11 L445.70,193.95 L447.70,194.79 L449.70,195.65 L451.70,196.51 L453.70,197.39 L455.70,198.27 L457.70,199.16 L459.70,200.06 L461.70,200.97 L463.70,201.89 L465.70,202.81 L467.70,203.74 L469.70,204.68 L471.70,205.62 L473.70,206.57 L475.70,207.53 L477.70,208.49 L479.70,209.45 L481.70,210.43 L483.70,211.40 L485.70,212.38 L487.70,213.37 L489.70,214.36 L491.70,215.35 L493.70,216.35 L495.70,217.35 L497.70,218.35 L499.60,219.30 " stroke="#111" stroke-width="1" fill="none"/>
<path d="M51.70,248.86 L53.70,247.42 L55.70,246.00 L57.70,244.62 L59.70,243.26 L61.70,241.93 L63.70,240.63 L65.70,239.35 L67.70,238.10 L69.70,236.88 L71.70,235.68 L73.70,234.50 L75.70,233.35 L77.70,232.22 L79.70,231.12 L81.70,230.03 L83.70,228.97 L85.70,227.93 L87.70,226.91 L89.70,225.92 L91.70,224.94 L93.70,223.98 L95.70,223.04 L97.70,222.12 L99.70,221.22 L101.70,220.33 L103.70,219.47 L105.70,218.62 L107.70,217.78 L109.70,216.96 L111.70,216.16 L113.70,215.37 L115.70,214.59 L117.70,213.83 L119.70,213.08 L121.70,212.34 L123.70,211.62 L125.70,210.91 L127.70,210.20 L129.70,209.51 L131.70,208.83 L133.70,208.16 L135.70,207.50 L137.70,206.85 L139.70,206.20 L141.70,205.57 L143.70,204.94 L145.70,204.31 L147.70,203.70 L149.70,203.09 L151.70,202.49 L153.70,201.90 L155.70,201.31 L157.70,200.74 L159.70,200.17 L161.70,199.60 L163.70,199.05 L165.70,198.50 L167.70,197.96 L169.70,197.42 L171.70,196.89 L173.70,196.37 L175.70,195.86 L177.70,195.35 L179.70,194.85 L181.70,194.36 L183.70,193.87 L185.70,193.39 L187.70,192.92 L189.70,192.45 L191.70,191.99 L193.70,191.54 L195.70,191.09 L197.70,190.65 L199.70,190.22 L201.70,189.79 L203.70,189.37 L205.70,188.95 L207.70,188.54 L209.70,188.14 L211.70,187.74 L213.70,187.35 L215.70,186.97 L217.70,186.59 L219.70,186.22 L221.70,185.85 L223.70,185.49 L225.70,185.14 L227.70,184.79 L229.70,184.45 L231.70,184.11 L233.70,183.78 L235.70,183.45 L237.70,183.13 L239.70,182.82 L241.70,182.51 L243.70,182.21 L245.70,181.91 L247.70,181.62 L249.70,181.33 L251.70,181.05 L253.70,180.78 L255.70,180.51 L257.70,180.25 L259.70,180.00 L261.70,179.75 L263.70,179.51 L265.70,179.28 L267.70,179.05 L269.70,178.83 L271.70,178.62 L273.70,178.42 L275.70,178.22 L277.70,178.03 L279.70,177.85 L281.70,177.67 L283.70,177.51 L285.70,177.35 L287.70,177.20 L289.70,177.05 L291.70,176.92 L293.70,176.79 L295.70,176.68 L297.70,176.57 L299.70,176.47 L301.70,176.38 L303.70,176.30 L305.70,176.22 L307.70,176.16 L309.70,176.10 L311.70,176.06 L313.70,176.02 L315.70,176.00 L317.70,175.98 L319.70,175.98 L321.70,175.98 L323.70,175.99 L325.70,176.02 L327.70,176.05 L329.70,176.09 L331.70,176.15 L333.70,176.22 L335.70,176.29 L337.70,176.38 L339.70,176.48 L341.70,176.59 L343.70,176.71 L345.70,176.84 L347.70,176.98 L349.70,177.14 L351.70,177.30 L353.70,177.48 L355.70,177.67 L357.70,177.87 L359.70,178.09 L361.70,178.31 L363.70,178.55 L365.70,178.80 L367.70,179.06 L369.70,179.34 L371.70,179.63 L373.70,179.93 L375.70,180.24 L377.70,180.57 L379.70,180.91 L381.70,181.27 L383.70,181.63 L385.70,182.01 L387.70,182.41 L389.70,182.82 L391.70,183.24 L393.70,183.67 L395.70,184.12 L397.70,184.59 L399.70,185.06 L401.70,185.56 L403.70,186.06 L405.70,186.58 L407.70,187.12 L409.70,187.67 L411.70,188.23 L413.70,188.80 L415.70,189.39 L417.70,189.99 L419.70,190.60 L421.70,191.22 L423.70,191.86 L425.70,192.51 L427.70,193.17 L429.70,193.84 L431.70,194.52 L433.70,195.21 L435.70,195.92 L437.70,196.63 L439.70,197.35 L441.70,198.09 L443.70,198.83 L445.70,199.58 L447.70,200.35 L449.70,201.12 L451.70,201.90 L453.70,202.69 L455.70,203.48 L457.70,204.29 L459.70,205.10 L461.70,205.92 L463.70,206.75 L465.70,207.59 L467.70,208.43 L469.70,209.28 L471.70,210.13 L473.70,211.00 L475.70,211.86 L477.70,212.74 L479.70,213.62 L481.70,214.50 L483.70,215.39 L485.70,216.29 L487.70,217.19 L489.70,218.09 L491.70,219.00 L493.70,219.92 L495.70,220.83 L497.70,221.75 L499.60,222.63 " stroke="#000" stroke-width="1.45" fill="none"/>
<path d="M52.70,348.62 L54.20,348.45 L55.70,348.27 L57.20,348.09 L58.70,347.90 L60.20,347.70 L61.70,347.49 L63.20,347.27 L64.70,347.04 L66.20,346.81 L67.70,346.57 L69.20,346.32 L70.70,346.06 L72.20,345.80 L73.70,345.53 L75.20,345.25 L76.70,344.97 L78.20,344.68 L79.70,344.38 L81.20,344.08 L82.70,343.77 L84.20,343.45 L85.70,343.13 L87.20,342.80 L88.70,342.47 L90.20,342.13 L91.70,341.78 L93.20,341.43 L94.70,341.08 L96.20,340.72 L97.70,340.35 L99.20,339.98 L100.70,339.61 L102.20,339.23 L103.70,338.84 L105.20,338.46 L106.70,338.07 L108.20,337.67 L109.70,337.27 L111.20,336.87 L112.70,336.46 L114.20,336.05 L115.70,335.64 L117.20,335.22 L118.70,334.81 L120.20,334.38 L121.70,333.96 L123.20,333.53 L124.70,333.10 L126.20,332.67 L127.70,332.24 L129.20,331.81 L130.70,331.37 L132.20,330.93 L133.70,330.49 L135.20,330.05 L136.70,329.61 L138.20,329.16 L139.70,328.72 L141.20,328.27 L142.70,327.83 L144.20,327.38 L145.70,326.93 L147.20,326.49 L148.70,326.04 L150.20,325.59 L151.70,325.15 L153.20,324.70 L154.70,324.25 L156.20,323.81 L157.70,323.36 L159.20,322.92 L160.70,322.48 L162.20,322.04 L163.70,321.60 L165.20,321.16 L166.70,320.72 L168.20,320.29 L169.70,319.85 L171.20,319.42 L172.70,318.99 L174.20,318.56 L175.70,318.14 L177.20,317.72 L178.70,317.30 L180.20,316.88 L181.70,316.47 L183.20,316.06 L184.70,315.65 L186.20,315.25 L187.70,314.85 L189.20,314.45 L190.70,314.06 L192.20,313.67 L193.70,313.29 L195.20,312.91 L196.70,312.53 L198.20,312.16 L199.70,311.80 L201.20,311.43 L202.70,311.08 L204.20,310.73 L205.70,310.38 L207.20,310.04 L208.70,309.70 L209.50,309.53 L499.50,309.50 " stroke="#0b4a8f" stroke-width="1.4" fill="none"/>
<path d="M52.70,354.49 L54.20,354.37 L55.70,354.24 L57.20,354.10 L58.70,353.95 L60.20,353.78 L61.70,353.61 L63.20,353.43 L64.70,353.23 L66.20,353.03 L67.70,352.81 L69.20,352.59 L70.70,352.35 L72.20,352.11 L73.70,351.86 L75.20,351.60 L76.70,351.33 L78.20,351.05 L79.70,350.77 L81.20,350.48 L82.70,350.17 L84.20,349.87 L85.70,349.55 L87.20,349.23 L88.70,348.90 L90.20,348.56 L91.70,348.22 L93.20,347.87 L94.70,347.51 L96.20,347.15 L97.70,346.78 L99.20,346.41 L100.70,346.03 L102.20,345.64 L103.70,345.26 L105.20,344.86 L106.70,344.46 L108.20,344.06 L109.70,343.65 L111.20,343.24 L112.70,342.83 L114.20,342.41 L115.70,341.99 L117.20,341.57 L118.70,341.14 L120.20,340.71 L121.70,340.28 L123.20,339.84 L124.70,339.40 L126.20,338.97 L127.70,338.52 L129.20,338.08 L130.70,337.64 L132.20,337.19 L133.70,336.75 L135.20,336.30 L136.70,335.86 L138.20,335.41 L139.70,334.96 L141.20,334.51 L142.70,334.07 L144.20,333.62 L145.70,333.17 L147.20,332.73 L148.70,332.29 L150.20,331.84 L151.70,331.40 L153.20,330.96 L154.70,330.52 L156.20,330.09 L157.70,329.66 L159.20,329.23 L160.70,328.80 L162.20,328.37 L163.70,327.95 L165.20,327.53 L166.70,327.12 L168.20,326.71 L169.70,326.30 L171.20,325.89 L172.70,325.50 L174.20,325.10 L175.70,324.71 L177.20,324.33 L178.70,323.95 L180.20,323.57 L181.70,323.20 L183.20,322.84 L184.70,322.48 L186.20,322.13 L187.70,321.79 L189.20,321.45 L190.70,321.12 L192.20,320.79 L193.70,320.47 L195.20,320.16 L196.70,319.86 L198.20,319.57 L199.70,319.28 L201.20,319.00 L202.70,318.73 L204.20,318.47 L205.70,318.21 L207.20,317.97 L208.70,317.73 L210.20,317.51 L211.70,317.29 L499.50,317.50 " stroke="#3d5f95" stroke-width="1" fill="none"/>
<path d="M52,388.6 L152,388.6" stroke="#dfe8f0" stroke-width="1.2" fill="none"/>
<path d="M57,389.9 L152,389.4" stroke="#0b4a8f" stroke-width="1.8" fill="none"/>
<path d="M52.00,391.59 L53.50,391.54 L55.00,391.49 L56.50,391.44 L58.00,391.39 L59.50,391.33 L61.00,391.27 L62.50,391.21 L64.00,391.15 L65.50,391.09 L67.00,391.03 L68.50,390.96 L70.00,390.90 L71.50,390.83 L73.00,390.76 L74.50,390.69 L76.00,390.62 L77.50,390.55 L79.00,390.48 L80.50,390.41 L82.00,390.33 L83.50,390.26 L85.00,390.18 L86.50,390.10 L88.00,390.02 L89.50,389.94 L91.00,389.86 L92.50,389.78 L94.00,389.70 L95.50,389.62 L97.00,389.53 L98.50,389.45 L100.00,389.36 L101.50,389.28 L103.00,389.19 L104.50,389.10 L106.00,389.02 L107.50,388.93 L109.00,388.84 L110.50,388.75 L112.00,388.66 L113.50,388.57 L115.00,388.48 L116.50,388.39 L118.00,388.30 L119.50,388.21 L121.00,388.12 L122.50,388.03 L124.00,387.94 L125.50,387.85 L127.00,387.76 L128.50,387.66 L130.00,387.57 L131.50,387.48 L133.00,387.39 L134.50,387.30 L136.00,387.21 L137.50,387.11 L139.00,387.02 L140.50,386.93 L142.00,386.84 L143.50,386.75 L145.00,386.66 L146.50,386.57 L148.00,386.48 L149.50,386.39 L151.00,386.30 L152.50,386.22 L154.00,386.13 L155.50,386.04 L157.00,385.95 L158.50,385.87 L160.00,385.78 L161.50,385.70 L163.00,385.61 L164.50,385.53 L166.00,385.45 L167.50,385.36 L169.00,385.28 L170.50,385.20 L172.00,385.12 L173.50,385.04 L175.00,384.96 L176.50,384.89 L178.00,384.81 L179.50,384.74 L181.00,384.66 L182.50,384.59 L184.00,384.52 L185.50,384.45 L187.00,384.38 L188.50,384.31 L190.00,384.24 L191.50,384.18 L193.00,384.11 L194.50,384.05 L196.00,383.99 L197.50,383.93 L199.00,383.87 L200.50,383.81 L202.00,383.75 L203.50,383.70 L205.00,383.65 L206.50,383.59 L208.00,383.54 L209.50,383.50 L211.00,383.45 L212.50,383.40 L214.00,383.36 L215.50,383.32 L217.00,383.27 L218.50,383.23 L220.00,383.19 L221.50,383.16 L223.00,383.12 L224.50,383.08 L226.00,383.04 L227.50,383.01 L229.00,382.97 L230.50,382.94 L232.00,382.90 L233.50,382.86 L235.00,382.83 L236.50,382.80 L238.00,382.76 L239.50,382.73 L241.00,382.69 L242.50,382.66 L244.00,382.62 L245.50,382.58 L247.00,382.55 L248.50,382.51 L250.00,382.47 L251.50,382.43 L253.00,382.39 L254.50,382.35 L256.00,382.31 L257.50,382.27 L259.00,382.22 L260.50,382.18 L262.00,382.13 L263.50,382.08 L265.00,382.03 L266.50,381.98 L268.00,381.93 L269.50,381.88 L271.00,381.82 L272.50,381.76 L274.00,381.70 L275.50,381.64 L277.00,381.57 L278.50,381.51 L280.00,381.44 L281.50,381.37 L283.00,381.29 L284.50,381.22 L286.00,381.14 L287.50,381.05 L289.00,380.97 L290.50,380.88 L292.00,380.79 L293.50,380.70 L295.00,380.60 L296.50,380.50 L298.00,380.39 L299.50,380.29 L301.00,380.18 L302.50,380.06 L304.00,379.94 L305.50,379.82 L307.00,379.70 L308.50,379.57 L310.00,379.43 L311.50,379.30 L313.00,379.15 L314.50,379.01 L316.00,378.86 L317.50,378.70 L319.00,378.54 L320.50,378.38 L322.00,378.21 L323.50,378.04 L325.00,377.86 L326.50,377.68 L328.00,377.50 L329.50,377.31 L331.00,377.11 L332.50,376.92 L334.00,376.72 L335.50,376.51 L337.00,376.30 L338.50,376.09 L340.00,375.88 L341.50,375.66 L343.00,375.44 L344.50,375.21 L346.00,374.99 L347.50,374.76 L349.00,374.52 L350.50,374.29 L352.00,374.05 L353.50,373.81 L355.00,373.56 L356.50,373.31 L358.00,373.07 L359.50,372.81 L361.00,372.56 L362.50,372.31 L364.00,372.05 L365.50,371.79 L367.00,371.53 L368.50,371.26 L370.00,371.00 L371.50,370.73 L373.00,370.46 L374.50,370.19 L376.00,369.92 L377.50,369.65 L379.00,369.38 L380.50,369.10 L382.00,368.83 L383.50,368.55 L385.00,368.27 L386.50,367.99 L388.00,367.71 L389.50,367.44 L391.00,367.16 L392.50,366.87 L394.00,366.59 L395.50,366.31 L397.00,366.03 L398.50,365.75 L400.00,365.47 L401.50,365.19 L403.00,364.91 L404.50,364.63 L406.00,364.35 L407.50,364.07 L409.00,363.79 L410.50,363.51 L412.00,363.23 L413.50,362.94 L415.00,362.66 L416.50,362.38 L418.00,362.09 L419.50,361.81 L421.00,361.51 L422.50,361.22 L424.00,360.93 L425.50,360.63 L427.00,360.32 L428.50,360.01 L430.00,359.70 L431.50,359.38 L433.00,359.06 L434.50,358.73 L436.00,358.40 L437.50,358.06 L439.00,357.71 L440.50,357.36 L442.00,357.00 L443.50,356.63 L445.00,356.25 L446.50,355.86 L448.00,355.47 L449.50,355.07 L451.00,354.65 L452.50,354.23 L454.00,353.80 L455.50,353.36 L457.00,352.90 L458.50,352.44 L460.00,351.96 L461.50,351.47 L463.00,350.97 L464.50,350.45 L466.00,349.92 L467.50,349.38 L469.00,348.83 L470.50,348.26 L472.00,347.67 L473.50,347.07 L475.00,346.45 L476.50,345.82 L478.00,345.17 L479.50,344.50 L481.00,343.81 L482.50,343.11 L484.00,342.39 L485.50,341.64 L487.00,340.88 L488.50,340.10 L490.00,339.30 L491.50,338.48 L493.00,337.64 L494.50,336.77 L496.00,335.89 L497.50,334.98 L499.00,334.05 L499.50,333.73 " stroke="#000" stroke-width="1.4" fill="none"/>
<rect x="306" y="20.5" width="237" height="36" fill="#fff"/>
<rect x="433.5" y="0.5" width="110" height="16" fill="#fff" stroke="#7a7a7a" stroke-width="1"/>
<path d="M52,0 V250 H544 V0 M52,269 V391.5 H544 V269" stroke="#666" stroke-width="2" fill="none"/>
<path d="M51,0.5 H544 M51,268.5 H544" stroke="#6a6a6a" stroke-width="1" fill="none"/>
<path d="M48,250.5 H52 M48,229.5 H52 M48,208.5 H52 M48,187.5 H52 M48,166.5 H52 M48,145.5 H52 M48,124.5 H52 M48,104.5 H52 M48,83.5 H52 M48,62.5 H52 M48,41.5 H52 M96.5,250 V254 M140.5,250 V254 M185.5,250 V254 M229.5,250 V254 M273.5,250 V254 M318.5,250 V254 M362.5,250 V254 M406.5,250 V254 M451.5,250 V254 M495.5,250 V254 M544,250.5 H548 M544,229.5 H548 M544,208.5 H548 M544,187.5 H548 M544,166.5 H548 M544,145.5 H548 M48,391.5 H52 M544,391.5 H548 M48,367.5 H52 M544,367.5 H548 M48,342.5 H52 M544,342.5 H548 M48,317.5 H52 M544,317.5 H548" stroke="#484848" stroke-width="1" fill="none"/>
<path d="M539.85,250 V254 M48,292.5 H52 M544,292.5 H548" stroke="#8a8a8a" stroke-width="1" fill="none"/>
<text transform="translate(31.10,7.80) scale(1,0.960)" text-anchor="middle">H</text>
<text transform="translate(31.00,19.80) scale(1,0.960)" text-anchor="middle">[м]</text>
<text transform="translate(44.30,253.50) scale(1,0.960)" text-anchor="end">0</text>
<text transform="translate(44.30,232.65) scale(1,0.960)" text-anchor="end">2</text>
<text transform="translate(44.30,211.80) scale(1,0.960)" text-anchor="end">4</text>
<text transform="translate(44.30,190.95) scale(1,0.960)" text-anchor="end">6</text>
<text transform="translate(44.30,170.10) scale(1,0.960)" text-anchor="end">8</text>
<text transform="translate(44.30,149.25) scale(1,0.960)" text-anchor="end">10</text>
<text transform="translate(44.30,128.40) scale(1,0.960)" text-anchor="end">12</text>
<text transform="translate(44.30,107.55) scale(1,0.960)" text-anchor="end">14</text>
<text transform="translate(44.30,86.70) scale(1,0.960)" text-anchor="end">16</text>
<text transform="translate(44.30,65.85) scale(1,0.960)" text-anchor="end">18</text>
<text transform="translate(44.30,45.00) scale(1,0.960)" text-anchor="end">20</text>
<text transform="translate(51.37,262.70) scale(1,0.960)" text-anchor="middle">0</text>
<text transform="translate(95.71,262.70) scale(1,0.960)" text-anchor="middle">5</text>
<text transform="translate(140.04,262.70) scale(1,0.960)" text-anchor="middle">10</text>
<text transform="translate(184.38,262.70) scale(1,0.960)" text-anchor="middle">15</text>
<text transform="translate(228.71,262.70) scale(1,0.960)" text-anchor="middle">20</text>
<text transform="translate(273.05,262.70) scale(1,0.960)" text-anchor="middle">25</text>
<text transform="translate(317.38,262.70) scale(1,0.960)" text-anchor="middle">30</text>
<text transform="translate(361.72,262.70) scale(1,0.960)" text-anchor="middle">35</text>
<text transform="translate(406.05,262.70) scale(1,0.960)" text-anchor="middle">40</text>
<text transform="translate(450.39,262.70) scale(1,0.960)" text-anchor="middle">45</text>
<text transform="translate(494.72,262.70) scale(1,0.960)" text-anchor="middle">50</text>
<text transform="translate(503.40,262.70) scale(1,0.960)" textLength="36.00" lengthAdjust="spacing">Q [м³/ч]</text>
<text transform="translate(551.00,253.30) scale(1,0.960)">0</text>
<text transform="translate(551.00,232.45) scale(1,0.960)">20</text>
<text transform="translate(551.00,211.60) scale(1,0.960)">40</text>
<text transform="translate(551.00,190.75) scale(1,0.960)">60</text>
<text transform="translate(551.00,169.90) scale(1,0.960)">80</text>
<text transform="translate(551.00,149.05) scale(1,0.960)">100</text>
<text transform="translate(559.90,8.00) scale(1,0.960)" textLength="15.50" lengthAdjust="spacing">eta</text>
<text transform="translate(558.90,20.00) scale(1,0.960)" textLength="15.50" lengthAdjust="spacing">[%]</text>
<text transform="translate(436.90,11.70) scale(1,0.960)" textLength="104.80" lengthAdjust="spacing">TPE3 50-200, 3*460 V</text>
<text transform="translate(306.90,29.20) scale(1,0.960)" textLength="164.80" lengthAdjust="spacing">Перекачиваемая жидкость = Вода</text>
<text transform="translate(306.90,41.30) scale(1,0.960)" textLength="233.50" lengthAdjust="spacing">Температура перекачиваемой жидкости = 20 °C</text>
<text transform="translate(306.90,53.30) scale(1,0.960)" textLength="113.50" lengthAdjust="spacing">Плотность = 998.2 кг/м³</text>
<text transform="translate(78.40,41.00) scale(1,0.960)" textLength="29.30" lengthAdjust="spacing">100 %</text>
<text transform="translate(57.40,237.00) scale(1,0.960)" textLength="24.30" lengthAdjust="spacing">22 %</text>
<text transform="translate(22.40,276.00) scale(1,0.960)" textLength="7.00" lengthAdjust="spacing">P</text>
<text transform="translate(13.90,288.20) scale(1,0.960)" textLength="22.00" lengthAdjust="spacing">[кВт]</text>
<text transform="translate(44.30,394.80) scale(1,0.960)" text-anchor="end">0.0</text>
<text transform="translate(44.30,370.05) scale(1,0.960)" text-anchor="end">0.5</text>
<text transform="translate(44.30,345.30) scale(1,0.960)" text-anchor="end">1.0</text>
<text transform="translate(44.30,320.55) scale(1,0.960)" text-anchor="end">1.5</text>
<text transform="translate(551.00,394.80) scale(1,0.960)">0</text>
<text transform="translate(551.00,370.05) scale(1,0.960)">10</text>
<text transform="translate(551.00,345.30) scale(1,0.960)">20</text>
<text transform="translate(551.00,320.55) scale(1,0.960)">30</text>
<text transform="translate(557.40,276.00) scale(1,0.960)" textLength="28.00" lengthAdjust="spacing">NPSH</text>
<text transform="translate(563.90,288.20) scale(1,0.960)" textLength="13.50" lengthAdjust="spacing">[м]</text>
<text transform="translate(354.20,307.00) scale(1,0.960)" textLength="143.20" lengthAdjust="spacing" style="fill:#1a5aa8;stroke:#1a5aa8;">P1 (двиг.+преобр-ль частоты)</text>
<text transform="translate(484.40,327.80) scale(1,0.960)" textLength="11.50" lengthAdjust="spacing" style="fill:#1a5aa8;stroke:#1a5aa8;">P2</text>
</svg></body></html>
